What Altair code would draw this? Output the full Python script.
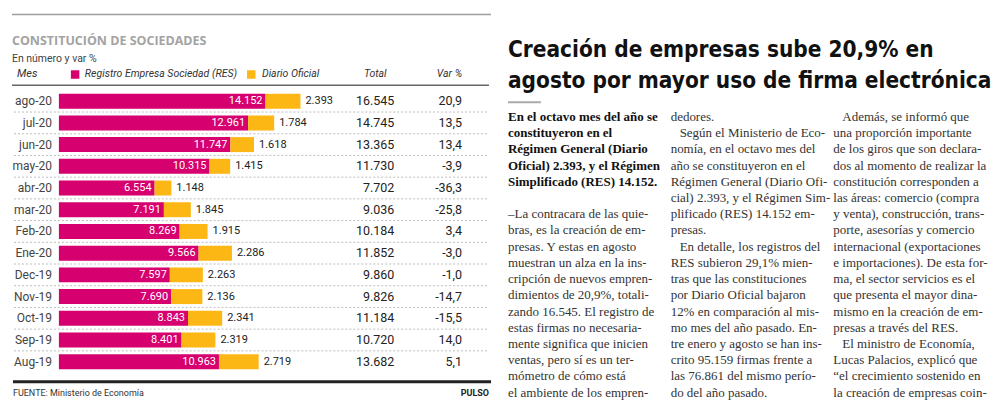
import altair as alt
import pandas as pd

# ---------------- data ----------------
months = ["ago-20", "jul-20", "jun-20", "may-20", "abr-20", "mar-20", "Feb-20",
          "Ene-20", "Dec-19", "Nov-19", "Oct-19", "Sep-19", "Aug-19"]
res = [14152, 12961, 11747, 10315, 6554, 7191, 8269, 9566, 7597, 7690, 8843, 8401, 10963]
dof = [2393, 1784, 1618, 1415, 1148, 1845, 1915, 2286, 2263, 2136, 2341, 2319, 2719]
total = [16545, 14745, 13365, 11730, 7702, 9036, 10184, 11852, 9860, 9826, 11184, 10720, 13682]
var = [20.9, 13.5, 13.4, -3.9, -36.3, -25.8, 3.4, -3.0, -1.0, -14.7, -15.5, 14.0, 5.1]

headline = ["Creación de empresas sube 20,9% en",
            "agosto por mayor uso de firma electrónica"]

lead = ["En el octavo mes del año se",
        "constituyeron en el",
        "Régimen General (Diario",
        "Oficial) 2.393, y el Régimen",
        "Simplificado (RES) 14.152."]

col1 = ["–La contracara de las quie-",
        "bras, es la creación de em-",
        "presas. Y estas en agosto",
        "muestran un alza en la ins-",
        "cripción de nuevos empren-",
        "dimientos de 20,9%, totali-",
        "zando 16.545. El registro de",
        "estas firmas no necesaria-",
        "mente significa que inicien",
        "ventas,  pero sí es un ter-",
        "mómetro de cómo está",
        "el ambiente de los empren-"]

col2 = ["dedores.",
        "Según el Ministerio de Eco-",
        "nomía, en el octavo mes del",
        "año se constituyeron en el",
        "Régimen General (Diario Ofi-",
        "cial) 2.393, y el Régimen Sim-",
        "plificado (RES) 14.152 em-",
        "presas.",
        "En detalle, los registros del",
        "RES subieron 29,1% mien-",
        "tras que las constituciones",
        "por Diario Oficial bajaron",
        "12% en comparación al mis-",
        "mo mes del año pasado. En-",
        "tre enero y agosto se han ins-",
        "crito 95.159 firmas frente a",
        "las 76.861 del mismo perío-",
        "do del año pasado."]
col2_indent = [1, 8]

col3 = ["Además, se informó que",
        "una proporción importante",
        "de los giros que son declara-",
        "dos al momento de realizar la",
        "constitución corresponden a",
        "las áreas: comercio (compra",
        "y venta), construcción, trans-",
        "porte,  asesorías y comercio",
        "internacional (exportaciones",
        "e importaciones). De esta for-",
        "ma, el sector servicios es el",
        "que presenta el mayor dina-",
        "mismo en la creación de em-",
        "presas a través del RES.",
        "El ministro de Economía,",
        "Lucas Palacios, explicó que",
        "“el crecimiento sostenido en",
        "la creación de empresas coin-"]
col3_indent = [0, 14]

PINK = "#D6006E"
YELLOW = "#FDB714"
SANS = "Roboto"
SERIF = "Liberation Serif"


def fmt_int(v):
    return f"{v:,}".replace(",", ".")


def fmt_dec(v):
    return f"{v:.1f}".replace(".", ",")


df = pd.DataFrame({
    "mes": months, "res": res, "dof": dof, "total": total, "var": var,
    "res_l": [fmt_int(v) for v in res],
    "dof_l": [fmt_int(v) for v in dof],
    "total_l": [fmt_int(v) for v in total],
    "var_l": [fmt_dec(v) for v in var],
})

W = 484
H = 395

yscale = alt.Scale(domain=months, range=[82.1, 364.9], paddingInner=0, paddingOuter=0)
xscale = alt.Scale(domain=[0, 17000], range=[51, 51 + 17000 * 0.01463], nice=False)
Y = alt.Y("mes:N", scale=yscale, axis=None, sort=months)


def txt(s, x, y, **kw):
    align = kw.pop("align", "left")
    baseline = kw.pop("baseline", "middle")
    return alt.Chart(pd.DataFrame({"t": [s]})).mark_text(
        align=align, baseline=baseline, **kw
    ).encode(text="t:N", x=alt.value(x), y=alt.value(y))


def hline(x1, x2, y, color, width, dash=None):
    kw = dict(color=color, strokeWidth=width)
    if dash:
        kw["strokeDash"] = dash
    return alt.Chart(pd.DataFrame({"a": [0]})).mark_rule(**kw).encode(
        x=alt.value(x1), x2=alt.value(x2), y=alt.value(y))


def box(x1, x2, y1, y2, color):
    return alt.Chart(pd.DataFrame({"a": [0]})).mark_rect(color=color).encode(
        x=alt.value(x1), x2=alt.value(x2), y=alt.value(y1), y2=alt.value(y2))


base = alt.Chart(df)

sep = alt.Chart(df.iloc[:-1]).mark_rule(color="#bdbdbd", strokeWidth=1, strokeDash=[2, 2]).encode(
    y=alt.Y("mes:N", scale=yscale, axis=None, sort=months, bandPosition=1),
    x=alt.value(6), x2=alt.value(480))

bar_res = base.mark_bar(size=15, color=PINK).encode(
    x=alt.X("res:Q", scale=xscale, axis=None), y=Y)
bar_do = base.mark_bar(size=15, color=YELLOW).encode(
    x=alt.X("res:Q", scale=xscale, axis=None), x2="total:Q", y=Y)

lab_res = base.mark_text(align="right", baseline="middle", dx=-3, color="white",
                         font=SANS, fontSize=11).encode(
    x=alt.X("res:Q", scale=xscale, axis=None), y=Y, text="res_l:N")
lab_do = base.mark_text(align="left", baseline="middle", dx=5, color="#222",
                        font=SANS, fontSize=11).encode(
    x=alt.X("total:Q", scale=xscale, axis=None), y=Y, text="dof_l:N")

lab_mes = base.mark_text(align="right", baseline="middle", color="#444",
                         font=SANS, fontSize=12).encode(
    x=alt.value(44), y=Y, text="mes:N")
lab_tot = base.mark_text(align="right", baseline="middle", color="#222",
                         font=SANS, fontSize=12.5).encode(
    x=alt.value(387), y=Y, text="total_l:N")
lab_var = base.mark_text(align="right", baseline="middle", color="#222",
                         font=SANS, fontSize=12.5).encode(
    x=alt.value(455), y=Y, text="var_l:N")

left = alt.layer(
    hline(4, 484, 6, "#9e9e9e", 1.5),
    txt("CONSTITUCIÓN DE SOCIEDADES", 4, 33, font="Open Sans", fontSize=12.5, fontWeight="bold", color="#a3a3a3"),
    txt("En número y var %", 4, 51, font=SANS, fontSize=10.5, color="#444"),
    txt("Mes", 9, 66, font=SANS, fontSize=11, fontStyle="italic", color="#333"),
    box(63, 71.5, 62, 70.5, PINK),
    txt("Registro Empresa Sociedad (RES)", 77, 66, font=SANS, fontSize=10.5, fontStyle="italic", color="#333"),
    box(239.5, 248, 62, 70.5, YELLOW),
    txt("Diario Oficial", 254.5, 66, font=SANS, fontSize=10.5, fontStyle="italic", color="#333"),
    txt("Total", 368, 66, align="center", font=SANS, fontSize=10.5, fontStyle="italic", color="#333"),
    txt("Var %", 455, 66, align="right", font=SANS, fontSize=10.5, fontStyle="italic", color="#333"),
    hline(4, 482, 77, "#666", 1.5),
    sep, bar_res, bar_do, lab_res, lab_do, lab_mes, lab_tot, lab_var,
    hline(5, 484, 374, "#222", 3),
    txt("FUENTE: Ministerio de Economía", 5, 385, font=SANS, fontSize=9, color="#333"),
    txt("PULSO", 482, 385, align="right", font=SANS, fontSize=9, fontWeight="bold", color="#222"),
).properties(width=W, height=H)

# ---------------- article ----------------
rows = []
for i, s in enumerate(lead):
    rows.append({"col": 0, "line": i, "t": s, "kind": "lead"})
for i, s in enumerate(col1):
    rows.append({"col": 0, "line": 6 + i, "t": s, "kind": "body"})
for i, s in enumerate(col2):
    rows.append({"col": 1, "line": i, "t": s, "kind": "indent" if i in col2_indent else "body"})
for i, s in enumerate(col3):
    rows.append({"col": 2, "line": i, "t": s, "kind": "indent" if i in col3_indent else "body"})
art = pd.DataFrame(rows)

AX = alt.X("col:Q", scale=alt.Scale(domain=[0, 2], range=[7, 333], nice=False, zero=False), axis=None)
AY = alt.Y("line:Q", scale=alt.Scale(domain=[0, 17], range=[108.7, 385], nice=False, zero=False), axis=None)
abase = alt.Chart(art)

a_lead = abase.transform_filter(alt.datum.kind == "lead").mark_text(
    align="left", baseline="middle", font=SERIF, fontSize=13, fontWeight="bold", color="#111"
).encode(x=AX, y=AY, text="t:N")
a_body = abase.transform_filter(alt.datum.kind == "body").mark_text(
    align="left", baseline="middle", font=SERIF, fontSize=13, color="#333"
).encode(x=AX, y=AY, text="t:N")
a_ind = abase.transform_filter(alt.datum.kind == "indent").mark_text(
    align="left", baseline="middle", font=SERIF, fontSize=13, color="#333", dx=9
).encode(x=AX, y=AY, text="t:N")

HFONT = "DejaVu Sans Condensed"
right = alt.layer(
    txt(headline[0], 7, 49, baseline="alphabetic", font=HFONT, fontSize=22.5, fontWeight="bold", color="#111"),
    txt(headline[1], 7, 80, baseline="alphabetic", font=HFONT, fontSize=22.5, fontWeight="bold", color="#111"),
    hline(7, 40, 94, "#aaa", 2),
    a_lead, a_body, a_ind,
).properties(width=W, height=H)

chart = alt.hconcat(left, right, spacing=8).properties(
    padding=0, background="white"
).configure_view(stroke=None)

chart.save("out.html", embed_options={"renderer": "svg", "actions": False})
